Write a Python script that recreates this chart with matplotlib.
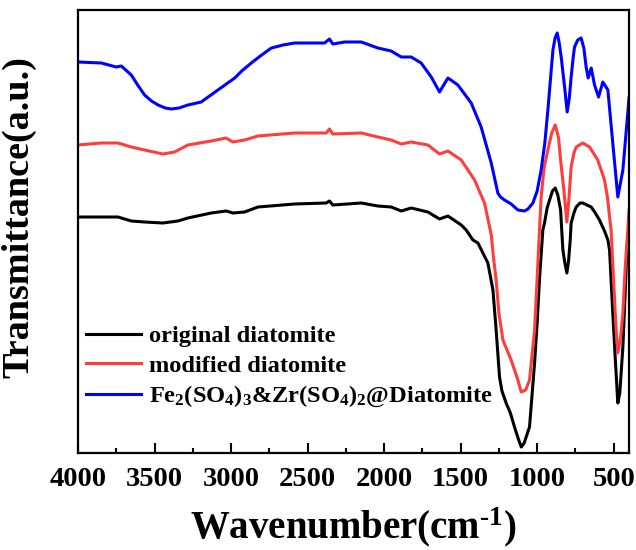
import matplotlib
matplotlib.use("Agg")
import matplotlib.pyplot as plt
from matplotlib.ticker import MultipleLocator

plt.rcParams["font.family"] = ["Liberation Serif", "DejaVu Serif"]
plt.rcParams["font.weight"] = "bold"
plt.rcParams["mathtext.default"] = "regular"

# FTIR spectra (wavenumber in cm-1, transmittance in a.u.)
w_orig = [4000, 3848, 3739, 3652, 3565, 3445, 3347, 3282, 3130, 3032, 2988, 2912,
          2824, 2585, 2378, 2357, 2335, 2149, 2041, 1954, 1888, 1823, 1714, 1638,
          1583, 1496, 1464, 1420, 1387, 1322, 1289, 1268, 1246, 1230, 1203, 1175,
          1148, 1125, 1104, 1085, 1050, 1035, 1017, 1000, 985, 963, 952, 935, 919,
          900, 882, 865, 847, 832, 819, 806, 795, 784, 778, 760, 745, 720, 702,
          647, 620, 593, 560, 538, 527, 506, 490, 473, 460, 440, 425, 413, 400]
t_orig = [236, 236, 236, 232, 231, 230, 232, 235, 240, 242, 240, 241,
          246, 249, 250, 252, 248, 250, 247, 246, 242, 245, 241, 234,
          237, 228, 223, 213, 210, 190, 163, 123, 76, 62, 50, 40,
          26, 15, 6, 10, 26, 55, 90, 130, 173, 223, 230, 245, 253,
          262, 265, 258, 243, 203, 190, 180, 192, 213, 230, 240, 246, 250, 250,
          246, 240, 233, 222, 213, 203, 140, 95, 50, 60, 106, 160, 206, 228]

w_mod = [4000, 3848, 3739, 3652, 3565, 3445, 3369, 3282, 3130, 3032, 2988, 2912,
         2824, 2585, 2378, 2357, 2335, 2149, 2041, 1954, 1888, 1823, 1714, 1638,
         1583, 1496, 1409, 1344, 1300, 1285, 1268, 1250, 1224, 1170, 1130, 1104,
         1075, 1050, 1017, 1000, 985, 974, 955, 930, 905, 882, 860, 847, 825, 806,
         792, 778, 760, 745, 702, 658, 604, 560, 540, 527, 517, 495, 485, 473,
         455, 440, 425, 408, 400]
t_mod = [308, 310, 310, 306, 303, 299, 301, 308, 312, 315, 311, 313,
         317, 320, 320, 324, 319, 320, 316, 313, 309, 311, 308, 299,
         302, 293, 273, 250, 218, 195, 173, 140, 113, 93, 75, 61,
         63, 73, 123, 175, 223, 256, 285, 303, 320, 328, 315, 293, 262, 231,
         255, 286, 300, 306, 310, 306, 293, 273, 255, 236, 223, 156, 125, 100,
         115, 140, 185, 223, 243]

w_fe = [4000, 3848, 3750, 3717, 3652, 3610, 3565, 3520, 3477, 3430, 3390, 3340,
        3282, 3195, 3086, 2976, 2930, 2868, 2800, 2737, 2660, 2585, 2389, 2357,
        2335, 2258, 2149, 2041, 1954, 1888, 1823, 1758, 1692, 1638, 1583, 1518,
        1431, 1366, 1300, 1257, 1240, 1213, 1170, 1126, 1083, 1060, 1028, 1000,
        974, 950, 930, 897, 883, 869, 856, 843, 820, 804, 790, 778, 765, 756, 735,
        713, 695, 680, 667, 647, 625, 599, 571, 538, 506, 473, 440, 408, 400]
t_fe = [391, 390, 386, 387, 378, 368, 358, 352, 348, 345, 344, 345,
        348, 351, 363, 375, 382, 390, 398, 405, 408, 410, 410, 414,
        409, 411, 411, 405, 402, 396, 396, 390, 376, 361, 375, 368,
        350, 326, 290, 260, 256, 253, 249, 243, 242, 244, 250, 262,
        283, 310, 343, 403, 415, 420, 410, 396, 365, 341, 355, 376, 395, 406, 413,
        415, 405, 386, 375, 385, 368, 356, 371, 363, 310, 256, 283, 340, 355]

labels = ["original diatomite", "modified diatomite",
          "Fe$_2$(SO$_4$)$_3$&Zr(SO$_4$)$_2$@Diatomite"]
colors = ["#000000", "#ff3d3d", "#0000ff"]

fig = plt.figure(figsize=(6.36, 5.5), dpi=100)
ax = fig.add_axes([78 / 636, 1 - 453 / 550, 551 / 636, 443 / 550])

for w, t, lab, c in zip([w_orig, w_mod, w_fe], [t_orig, t_mod, t_fe], labels, colors):
    ax.plot(w, t, color=c, lw=2.2, label=lab, solid_joinstyle="round")

ax.set_xlim(4000, 400)
ax.set_ylim(0, 443)
ax.xaxis.set_major_locator(MultipleLocator(500))
ax.xaxis.set_minor_locator(MultipleLocator(250))
ax.tick_params(axis="x", which="major", direction="in", length=7, width=1.5,
               labelsize=20.5, pad=10, top=False)
ax.tick_params(axis="x", which="minor", direction="in", length=3.5, width=1.5, top=False)
ax.set_yticks([])
for s in ax.spines.values():
    s.set_linewidth(1.6)

ax.set_xlabel("Wavenumber(cm$^{\u20101}$)", fontsize=28, fontweight="bold", labelpad=10)
ax.set_ylabel("Transmittance(a.u.)", fontsize=27.5, fontweight="bold")
ax.yaxis.set_label_coords(-0.075, 0.533)

ax.legend(loc="lower left", bbox_to_anchor=(-0.016, 0.06), frameon=False,
          fontsize=17.6, handlelength=2.25, handletextpad=0.3, labelspacing=0.3,
          borderaxespad=0.3)

fig.savefig("out.png", dpi=100)
